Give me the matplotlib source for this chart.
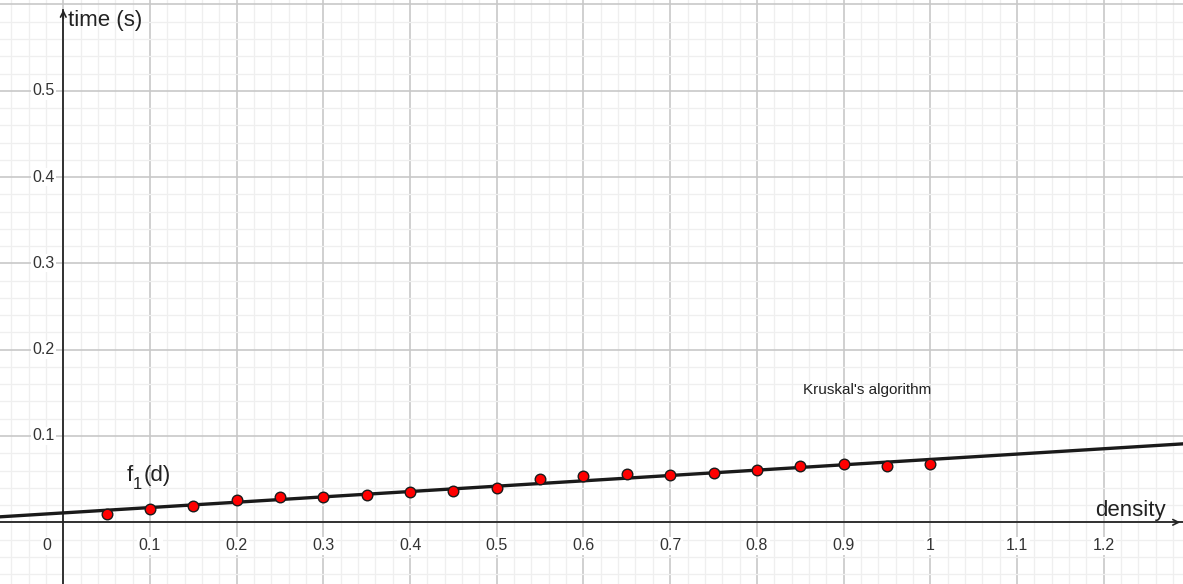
import numpy as np
import matplotlib
matplotlib.use("Agg")
import matplotlib.pyplot as plt

# Measured run times of Kruskal's algorithm against graph density
density = [0.05, 0.10, 0.15, 0.20, 0.25, 0.30, 0.35, 0.40, 0.45, 0.50,
           0.55, 0.60, 0.65, 0.70, 0.75, 0.80, 0.85, 0.90, 0.95, 1.00]
time_s = [0.0093, 0.0151, 0.0189, 0.0258, 0.0297, 0.0293, 0.0313, 0.0348, 0.0363, 0.0394,
          0.0505, 0.0537, 0.0563, 0.0545, 0.0575, 0.0603, 0.0656, 0.0672, 0.0649, 0.0676]

x_ticks = [0.1, 0.2, 0.3, 0.4, 0.5, 0.6, 0.7, 0.8, 0.9, 1.0, 1.1, 1.2]
x_tick_labels = ["0.1", "0.2", "0.3", "0.4", "0.5", "0.6", "0.7", "0.8", "0.9", "1", "1.1", "1.2"]
y_ticks = [0.1, 0.2, 0.3, 0.4, 0.5]
y_tick_labels = ["0.1", "0.2", "0.3", "0.4", "0.5"]

plt.rcParams["font.family"] = ["Liberation Sans", "DejaVu Sans"]

fig = plt.figure(figsize=(11.83, 5.84), dpi=100)
ax = fig.add_axes([0, 0, 1, 1])
xmin, xmax = -0.073, 1.2915
ymin, ymax = -0.0715, 0.6052
ax.set_xlim(xmin, xmax)
ax.set_ylim(ymin, ymax)
for s in ax.spines.values():
    s.set_visible(False)

# grid: majors every 0.1, minors every 0.02
ax.set_xticks(np.arange(-0.0, 1.3, 0.1))
ax.set_yticks(np.arange(-0.0, 0.61, 0.1))
ax.set_xticks(np.arange(-0.06, 1.3, 0.02), minor=True)
ax.set_yticks(np.arange(-0.06, 0.61, 0.02), minor=True)
ax.grid(which="major", color="#c8c8c8", linewidth=1.2, zorder=0)
ax.grid(which="minor", color="#efefef", linewidth=0.9, zorder=0)
ax.tick_params(which="both", length=0, labelbottom=False, labelleft=False)

# axes with arrow heads
ax.axhline(0, color="#252525", linewidth=1.3, zorder=2)
ax.plot([0, 0], [ymin, ymax - 0.012], color="#252525", linewidth=1.3, zorder=2)
ax.annotate("", xy=(xmax, 0), xytext=(xmax - 0.012, 0),
            arrowprops=dict(arrowstyle="->", color="#252525", lw=1.2), zorder=3)
ax.annotate("", xy=(0, ymax - 0.008), xytext=(0, ymax - 0.025),
            arrowprops=dict(arrowstyle="->", color="#252525", lw=1.2), zorder=3)

label_box = dict(facecolor="white", edgecolor="none", pad=1.0)
for xv, lab in zip(x_ticks, x_tick_labels):
    ax.annotate(lab, xy=(xv, 0), xytext=(0, -17), textcoords="offset points",
                ha="center", va="center", fontsize=11.5, color="#333333",
                bbox=label_box, zorder=4)
ax.annotate("0", xy=(0, 0), xytext=(-12, -17), textcoords="offset points",
            ha="center", va="center", fontsize=11.5, color="#333333",
            bbox=label_box, zorder=4)
for yv, lab in zip(y_ticks, y_tick_labels):
    ax.annotate(lab, xy=(0, yv), xytext=(-6, 0), textcoords="offset points",
                ha="right", va="center", fontsize=11.5, color="#333333",
                bbox=label_box, zorder=4)

ax.text(0.006, 0.582, "time (s)", fontsize=16, color="#222222", ha="left", va="center")
ax.text(1.272, 0.0135, "density", fontsize=16, color="#222222", ha="right", va="center")

# least-squares line through the measurements
slope, intercept = np.polyfit(density, time_s, 1)
xs = np.array([xmin, xmax])
ax.plot(xs, slope * xs + intercept, color="#1a1a1a", linewidth=2.4, zorder=5)

# function label f_1(d) with a dropped subscript
fx, fy = 0.0735, 0.0537
ax.annotate("f", xy=(fx, fy), ha="left", va="center", fontsize=16, color="#222222")
ax.annotate("1", xy=(fx, fy), xytext=(4.3, -6), textcoords="offset points",
            ha="left", va="center", fontsize=12, color="#222222")
ax.annotate("(d)", xy=(fx, fy), xytext=(12.2, 0), textcoords="offset points",
            ha="left", va="center", fontsize=16, color="#222222")

ax.scatter(density, time_s, s=58, color="#ff0000", edgecolors="#1a1a1a",
           linewidths=1.0, zorder=6)

ax.text(0.853, 0.1535, "Kruskal's algorithm", fontsize=11, color="#222222",
        ha="left", va="center")

fig.savefig("out.png", dpi=100)
